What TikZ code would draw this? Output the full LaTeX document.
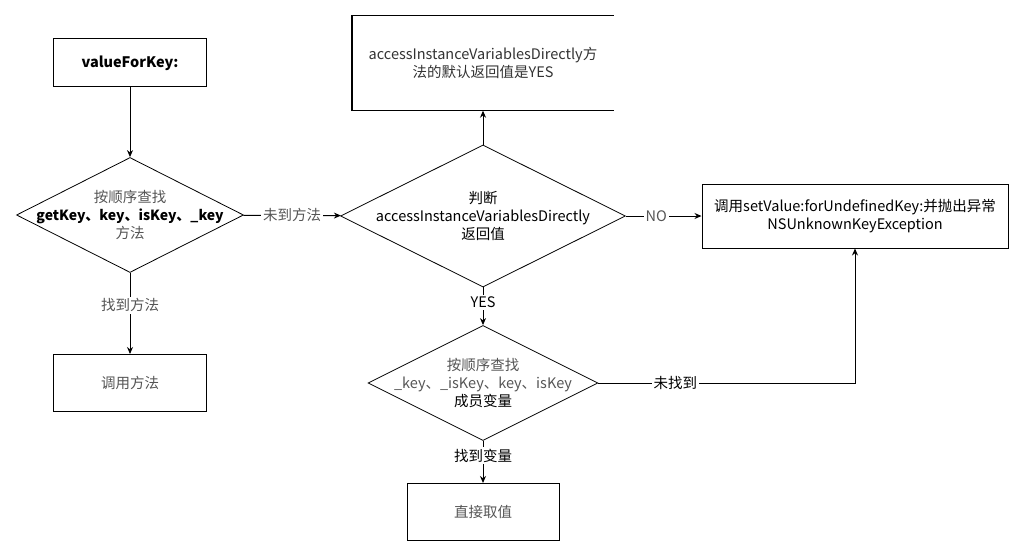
\documentclass[tikz,border=0pt]{standalone}
\usepackage{fontspec}
\setmainfont{Noto Sans CJK SC}
\usetikzlibrary{shapes.geometric,arrows.meta}
\definecolor{txtgray}{HTML}{555555}
\begin{document}
\begin{tikzpicture}[x=1pt,y=-1pt,
    font=\fontsize{14.5}{18}\selectfont,
    box/.style={draw, line width=1pt, inner sep=0pt},
    decision/.style={draw, diamond, line width=0.8pt, inner sep=0pt},
    arr/.style={line width=1pt, -{Stealth[length=7pt,width=6pt]}},
    lbl/.style={fill=white, inner sep=2pt}]
     \useasboundingbox (0,0) rectangle (1024,556);
     \node[box, minimum width=153pt, minimum height=48pt] (start) at (130,63) {\textbf{valueForKey:}};
     \node[decision, minimum width=227pt, minimum height=115pt] (findm) at (130,215) {};
     \node[align=center] at (findm) {\textcolor{txtgray}{按顺序查找}\\{\fontsize{14}{18}\selectfont\textbf{getKey、key、isKey、\_key}}\\\textcolor{txtgray}{方法}};
     \node[box, minimum width=153pt, minimum height=57pt, text=txtgray] (callm) at (130,383) {调用方法};
     \node[decision, minimum width=285pt, minimum height=142pt] (judge) at (483,216) {};
     \node[align=center] at (judge) {判断\\accessInstanceVariablesDirectly\\返回值};
     \node[minimum width=261pt, minimum height=95pt, inner sep=0pt, align=center, text=black!80] (defbox) at (483,63) {accessInstanceVariablesDirectly方\\法的默认返回值是YES};
     \draw[line width=1pt] (defbox.north east) -- (defbox.north west);
     \draw[line width=2pt] (defbox.north west) -- (defbox.south west);
     \draw[line width=1pt] (defbox.south west) -- (defbox.south east);
     \node[box, minimum width=306pt, minimum height=64pt, align=center] (throw) at (855,216) {调用setValue:forUndefinedKey:并抛出异常\\NSUnknownKeyException};
     \node[decision, minimum width=230pt, minimum height=115pt] (findv) at (483,383) {};
     \node[align=center] at (findv) {\textcolor{txtgray}{按顺序查找}\\\textcolor{txtgray}{\_key、\_isKey、key、isKey}\\成员变量};
     \node[box, minimum width=152pt, minimum height=57pt, text=txtgray] (getv) at (483,512) {直接取值};
     \draw[arr] (start) -- (findm);
     \draw[arr] (findm) -- node[lbl, pos=0.4, text=txtgray]{找到方法} (callm);
     \draw[arr] (findm) -- node[lbl, text=txtgray]{未到方法} (judge);
     \draw[arr] (judge) -- (defbox);
     \draw[arr] (judge) -- node[lbl, pos=0.4, text=txtgray]{NO} (throw);
     \draw[arr] (judge) -- node[lbl, pos=0.4]{YES} (findv);
     \draw[arr] (findv) -- node[lbl, pos=0.35]{找到变量} (getv);
     \draw[arr] (findv) -| node[lbl, pos=0.15]{未找到} (throw);
    \end{tikzpicture}
\end{document}
